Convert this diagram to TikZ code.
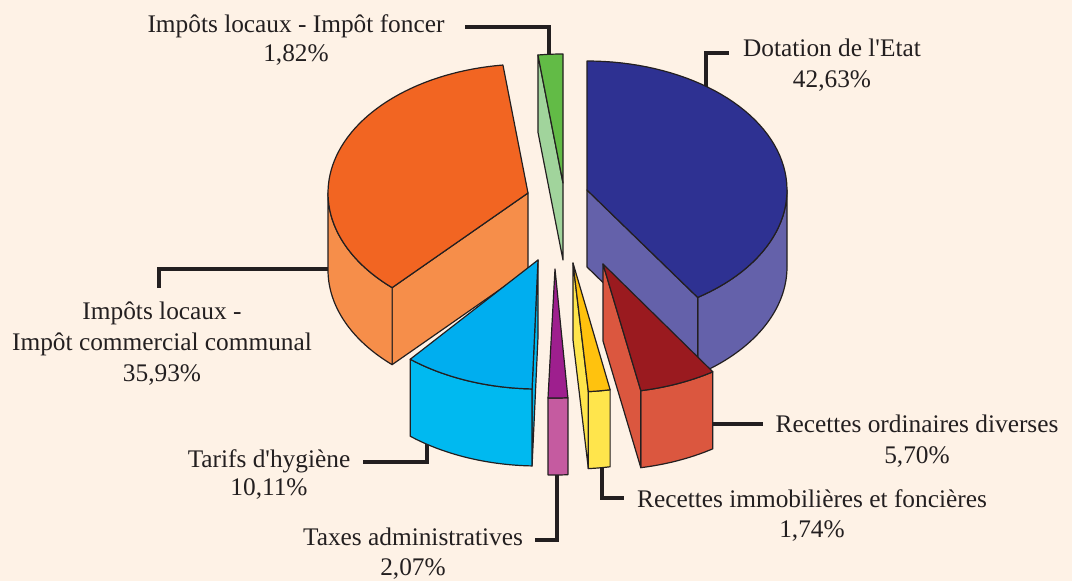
\documentclass[tikz,border=0pt]{standalone}
\usepackage{fontspec}
\setmainfont{Liberation Serif}[Ligatures=TeXOff]
\definecolor{bg}{HTML}{FEF2E6}
\definecolor{ink}{HTML}{231F20}
\definecolor{blueTop}{HTML}{2E3192}
\definecolor{blueSide}{HTML}{6461AA}
\definecolor{orangeTop}{HTML}{F26522}
\definecolor{orangeSide}{HTML}{F68E4A}
\definecolor{greenTop}{HTML}{62BB46}
\definecolor{greenSide}{HTML}{A1D49C}
\definecolor{cyanTop}{HTML}{00AEEF}
\definecolor{cyanSide}{HTML}{00B9F0}
\definecolor{magTop}{HTML}{9E1F8E}
\definecolor{magSide}{HTML}{C55BA0}
\definecolor{yelTop}{HTML}{FFC20E}
\definecolor{yelSide}{HTML}{FFE54C}
\definecolor{redTop}{HTML}{9A1A1F}
\definecolor{redSide}{HTML}{DB573F}
% cx, cy, a1, a2, colour
\newcommand{\pietop}[5]{\filldraw[slice,fill=#5] (#1,#2) -- plot[domain=#3:#4,samples=60] ({#1+200*cos(\x)},{#2+129*sin(\x)}) -- cycle;}
\newcommand{\pieside}[5]{\filldraw[slice,fill=#5] plot[domain=#3:#4,samples=40] ({#1+200*cos(\x)},{#2+129*sin(\x)}) -- plot[domain=#4:#3,samples=40] ({#1+200*cos(\x)},{#2+77+129*sin(\x)}) -- cycle;}
% cx, cy, a, colour
\newcommand{\pieradial}[4]{\filldraw[slice,fill=#4] (#1,#2) -- ({#1+200*cos(#3)},{#2+129*sin(#3)}) -- ++(0,77) -- (#1,#2+77) -- cycle;}
\begin{document}
\begin{tikzpicture}[x=0.75pt,y=-0.75pt,
  slice/.style={draw=ink,line width=0.9pt,line join=round},
  leader/.style={draw=ink,line width=2.4pt},
  lbl/.style={anchor=base,inner sep=0pt,text=ink,font=\fontsize{19}{23}\selectfont}]
\fill[bg] (0,0) rectangle (1072,581);
\useasboundingbox (0,0) rectangle (1072,581);

% leader coordinates
\coordinate (gS) at (549,57);  \coordinate (gE) at (465,27);
\coordinate (bS) at (706,88);  \coordinate (bE) at (729,53);
\coordinate (oS) at (329,269); \coordinate (oE) at (159,288);
\coordinate (cS) at (427,443); \coordinate (cE) at (363,462);
\coordinate (mS) at (557,473); \coordinate (mE) at (535,540);
\coordinate (yS) at (602,465); \coordinate (yE) at (624,498);
\coordinate (rS) at (711,424); \coordinate (rE) at (763,424);

\draw[leader] (gS) |- (gE);
\draw[leader] (bS) |- (bE);
\draw[leader] (oS) -| (oE);
\draw[leader] (cS) |- (cE);
\draw[leader] (mS) |- (mE);
\draw[leader] (yS) |- (yE);
\draw[leader] (rS) -- (rE);

% orange slice
\pieradial{528}{193}{132.8}{orangeSide}
\pieside{528}{193}{132.8}{180}{orangeSide}
\pietop{528}{193}{132.8}{262.8}{orangeTop}
% green slice
\pieradial{563}{183}{262.8}{greenSide}
\pietop{563}{183}{262.8}{270}{greenTop}
% blue slice
\pieside{587}{190}{0}{56.4}{blueSide}
\pieradial{587}{190}{56.4}{blueSide}
\pietop{587}{190}{-90}{56.4}{blueTop}
% cyan slice
\pieradial{538}{260}{91.7}{cyanSide}
\pieside{538}{260}{91.7}{129.7}{cyanSide}
\pietop{538}{260}{91.7}{129.7}{cyanTop}
% magenta slice
\pieside{555}{269}{86.3}{92}{magSide}
\pietop{555}{269}{86.3}{92}{magTop}
% yellow slice
\pieside{573}{263}{79.3}{85.6}{yelSide}
\pieradial{573}{263}{85.6}{yelSide}
\pietop{573}{263}{79.3}{85.6}{yelTop}
% red slice
\pieside{603}{264}{56.7}{79.1}{redSide}
\pieradial{603}{264}{79.1}{redSide}
\pietop{603}{264}{56.7}{79.1}{redTop}

% labels
\node[lbl] (tGa) at (296,33) {Impôts locaux - Impôt foncer};
\node[lbl] (tGb) at (296,62) {1,82\%};
\node[lbl] (tBa) at (832,57) {Dotation de l'Etat};
\node[lbl] (tBb) at (832,88) {42,63\%};
\node[lbl] (tOa) at (162,320) {Impôts locaux -};
\node[lbl] (tOb) at (162,350) {Impôt commercial communal};
\node[lbl] (tOc) at (162,381) {35,93\%};
\node[lbl] (tCa) at (269,467) {Tarifs d'hygiène};
\node[lbl] (tCb) at (269,495) {10,11\%};
\node[lbl] (tMa) at (413,545) {Taxes administratives};
\node[lbl] (tMb) at (413,575) {2,07\%};
\node[lbl] (tYa) at (812,507) {Recettes immobilières et foncières};
\node[lbl] (tYb) at (812,537) {1,74\%};
\node[lbl] (tRa) at (917,432) {Recettes ordinaires diverses};
\node[lbl] (tRb) at (917,463) {5,70\%};
\end{tikzpicture}
\end{document}
